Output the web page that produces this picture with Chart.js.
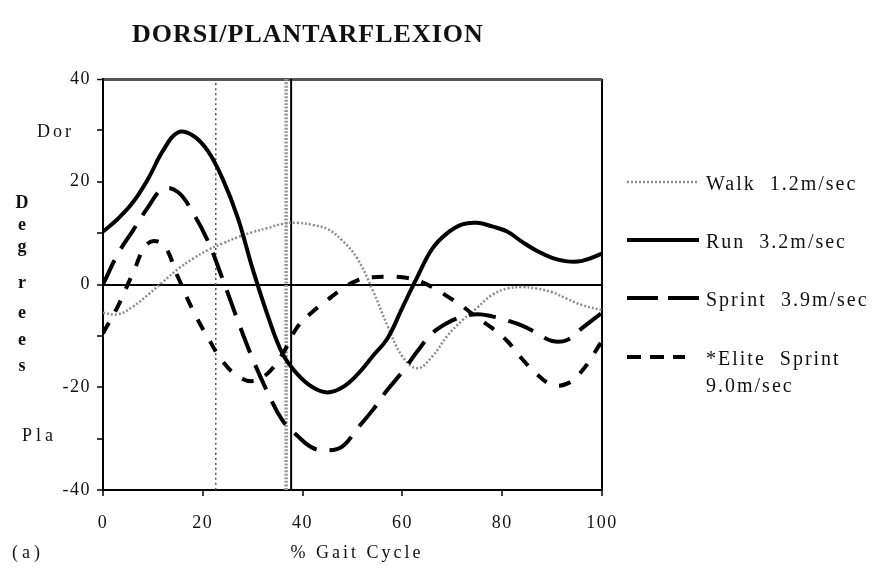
<!DOCTYPE html>
<html>
<head>
<meta charset="utf-8">
<script src="https://cdn.jsdelivr.net/npm/chart.js@4.4.1/dist/chart.umd.min.js"></script>
<style>
  html, body { margin: 0; padding: 0; background: #fff; }
</style>
</head>
<body>
<canvas id="chart" width="880" height="574"></canvas>
<script>
// % of gait cycle
const gaitPct = [0, 3, 6, 9, 12, 15, 18, 21, 24, 27, 30, 33, 36, 39, 42, 45, 48, 51, 54, 57, 60, 63, 66, 69, 72, 75, 78, 81, 84, 87, 90, 93, 96, 100];

// degrees (+ dorsiflexion, - plantarflexion)
const walk = [-5.5, -5.8, -4.3, -2, 0.5, 3, 5, 6.7, 8, 9.2, 10.2, 11, 11.8, 12, 11.6, 10.8, 8.5, 5, -1, -8, -14, -16.3, -14, -10, -7, -4.5, -2, -0.8, -0.5, -0.8, -1.5, -2.8, -4, -5];
const run = [10.3, 12.8, 16, 20.5, 26, 29.6, 29, 26, 20.5, 13, 3, -6, -13.5, -17.5, -20, -21, -20, -17.5, -14, -10.5, -4.5, 1.5, 7, 10, 11.7, 12, 11.3, 10.3, 8.3, 6.5, 5.2, 4.5, 4.6, 6];
const sprint = [0, 6, 10.5, 15, 18.6, 18, 14, 8.5, 1, -7, -14.5, -21, -26.5, -29.5, -31.8, -32.3, -31.5, -28, -24.5, -20.5, -17, -13, -9.5, -7.5, -6.3, -5.8, -6.2, -7, -8, -9.5, -11, -10.8, -8.5, -5.5];
const eliteSprint = [-9.5, -4.2, 2.2, 8, 7.8, 1.5, -5, -10.3, -15, -17.8, -18.8, -17.3, -13.5, -8.2, -5.3, -3, -0.8, 0.8, 1.4, 1.5, 1.4, 0.8, -0.5, -2.3, -4.2, -6.5, -8.5, -11, -14.5, -17.5, -19.5, -19.3, -16.8, -11];

const seriesLabels = ["Walk  1.2m/sec", "Run  3.2m/sec", "Sprint  3.9m/sec", ["*Elite  Sprint", "9.0m/sec"]];

// vertical event markers (% gait cycle)
const markerPct = [22.6, 36.7, 37.7];

const yMin = -40, yMax = 40;

function points(values) {
    return values.map((v, i) => ({x: gaitPct[i], y: v}));
}

function marker(x) {
    return [{x: x, y: yMin}, {x: x, y: yMax}];
}

const SERIF = '"Liberation Serif", "DejaVu Serif", serif';

function text(ctx, str, x, y, spacing) {
    ctx.letterSpacing = spacing + 'px';
    ctx.fillText(str, x, y);
}

const annotate = {
    id: 'annotate',
    beforeDraw(chart) {
        // the scanned original has wide, loosely spaced type
        chart.ctx.letterSpacing = '1.5px';
    },
    afterDraw(chart) {
        const ctx = chart.ctx;
        ctx.save();
        ctx.fillStyle = '#111';
        ctx.textBaseline = 'middle';

        ctx.font = 'bold 26px ' + SERIF;
        text(ctx, 'DORSI/PLANTARFLEXION', 132, 35, 1);

        ctx.font = '18px ' + SERIF;
        text(ctx, 'Dor', 37, 132, 3);
        text(ctx, 'Pla', 22, 436, 4);
        text(ctx, '(a)', 12, 553, 4);
        ctx.textAlign = 'center';
        text(ctx, '% Gait Cycle', 357, 553, 3);

        // vertical axis word, one letter per line
        const letters = ['D', 'e', 'g', 'r', 'e', 'e', 's'];
        const ys = [203, 225, 247, 283, 313, 340, 366];
        ctx.font = 'bold 18px ' + SERIF;
        letters.forEach((l, i) => text(ctx, l, 22, ys[i], 0));

        // legend
        ctx.textAlign = 'left';
        ctx.font = '20px ' + SERIF;
        const rows = [182, 240, 298, 357];
        let row = 0;
        for (const ds of chart.data.datasets) {
            if (!ds.legendLabel) continue;
            let y = rows[row++];
            ctx.save();
            ctx.strokeStyle = ds.borderColor;
            ctx.lineWidth = ds.borderWidth;
            ctx.setLineDash(ds.legendDash || ds.borderDash || []);
            ctx.beginPath();
            ctx.moveTo(627, y);
            ctx.lineTo(ds.legendEnd || 699, y);
            ctx.stroke();
            ctx.restore();
            [].concat(ds.legendLabel).forEach((t, k) => text(ctx, t, 706, y + 3 + k * 27, 2));
        }
        ctx.restore();
    }
};

const ctx = document.getElementById('chart');

new Chart(ctx, {
    type: 'line',
    data: {
        datasets: [
            {
                legendLabel: seriesLabels[0],
                data: points(walk),
                borderColor: '#8c8c8c',
                borderWidth: 2.5,
                borderDash: [2, 2],
                order: 4
            },
            {
                legendLabel: seriesLabels[1],
                data: points(run),
                borderColor: '#000',
                borderWidth: 4,
                order: 1
            },
            {
                legendLabel: seriesLabels[2],
                data: points(sprint),
                borderColor: '#000',
                borderWidth: 4,
                borderDash: [27, 13],
                legendDash: [31, 10],
                order: 2
            },
            {
                legendLabel: seriesLabels[3],
                data: points(eliteSprint),
                borderColor: '#000',
                borderWidth: 4,
                borderDash: [12, 13],
                legendDash: [14, 9],
                legendEnd: 685,
                order: 3
            },
            {
                data: marker(markerPct[0]),
                borderColor: '#555',
                borderWidth: 1.5,
                borderDash: [2, 3],
                order: 9
            },
            {
                data: marker(markerPct[1]),
                borderColor: '#999',
                borderWidth: 3.5,
                borderDash: [2, 1.5],
                order: 8
            },
            {
                data: marker(markerPct[2]),
                borderColor: '#000',
                borderWidth: 2,
                order: 7
            }
        ]
    },
    options: {
        responsive: false,
        animation: false,
        layout: {
            padding: {left: 0, right: 278, top: 79, bottom: 0}
        },
        elements: {
            point: {radius: 0},
            line: {tension: 0.4, fill: false}
        },
        plugins: {
            legend: {display: false},
            tooltip: {enabled: false}
        },
        scales: {
            x: {
                type: 'linear',
                min: 0,
                max: 100,
                afterFit(scale) { scale.height = 84; },
                ticks: {
                    stepSize: 20,
                    padding: 16,
                    color: '#111',
                    font: {family: SERIF, size: 18}
                },
                grid: {
                    drawOnChartArea: true,
                    color: c => c.tick && c.tick.value === 100 ? '#000' : 'rgba(0,0,0,0)',
                    lineWidth: 2,
                    tickColor: '#000',
                    tickLength: 6,
                    tickWidth: 1.5
                },
                border: {color: '#000', width: 2}
            },
            y: {
                min: yMin,
                max: yMax,
                afterFit(scale) { scale.width = 103; },
                ticks: {
                    stepSize: 10,
                    autoSkip: false,
                    padding: 6,
                    color: '#111',
                    font: {family: SERIF, size: 18},
                    callback: v => v % 20 === 0 ? String(v) : ''
                },
                grid: {
                    drawOnChartArea: true,
                    color: c => {
                        if (!c.tick) return 'rgba(0,0,0,0)';
                        if (c.tick.value === 0) return '#000';
                        if (c.tick.value === 40) return '#555';
                        return 'rgba(0,0,0,0)';
                    },
                    lineWidth: c => c.tick && c.tick.value === 40 ? 3 : 2,
                    tickColor: '#000',
                    tickLength: 6,
                    tickWidth: 1.5
                },
                border: {color: '#000', width: 2}
            }
        }
    },
    plugins: [annotate]
});
</script>
</body>
</html>
